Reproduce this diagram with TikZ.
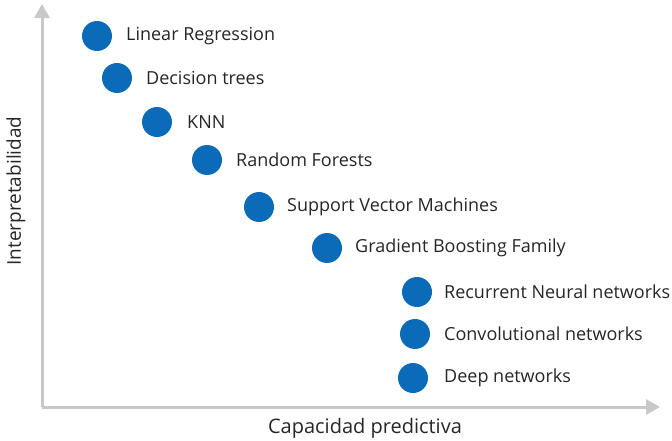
\documentclass[tikz,border=0pt]{standalone}
\usepackage{fontspec}
\setmainfont{Open Sans}
\usetikzlibrary{arrows.meta}
\definecolor{dotblue}{HTML}{0B6BB8}
\definecolor{axisgray}{HTML}{C8C8C8}
\definecolor{labelgray}{HTML}{262626}
\begin{document}
\begin{tikzpicture}[x=1pt,y=-1pt,
  dot/.style={circle,fill=dotblue,minimum size=30pt,inner sep=0pt},
  lbl/.style={anchor=west,inner sep=0pt,text=labelgray,font=\fontsize{18}{21}\selectfont},
  axis/.style={draw=axisgray,line width=3pt,-{Triangle[length=14pt,width=15pt]}},
  axlbl/.style={inner sep=0pt,text=labelgray}]
\useasboundingbox (0,0) rectangle (672,441);
% axes
\coordinate (o) at (42,407);
\coordinate (ytop) at (42,4);
\coordinate (xend) at (660,407);
\draw[axis] (o) -- (ytop);
\draw[axis] (o) -- (xend);
\node[axlbl,rotate=90,font=\fontsize{19}{22}\selectfont] (ylab) at (16,191) {Interpretabilidad};
\node[axlbl,font=\fontsize{20}{24}\selectfont] (xlab) at (365,428) {Capacidad predictiva};
% models
\node[dot] (d1) at (97,36) {};
\node[lbl] (t1) at (126,36) {Linear Regression};
\node[dot] (d2) at (117,78) {};
\node[lbl] (t2) at (146,78) {Decision trees};
\node[dot] (d3) at (157,122) {};
\node[lbl] (t3) at (187,122) {KNN};
\node[dot] (d4) at (207,160) {};
\node[lbl] (t4) at (236,160) {Random Forests};
\node[dot] (d5) at (259,207) {};
\node[lbl] (t5) at (287,207) {Support Vector Machines};
\node[dot] (d6) at (327,248) {};
\node[lbl] (t6) at (355,248) {Gradient Boosting Family};
\node[dot] (d7) at (417,292) {};
\node[lbl] (t7) at (444,292) {Recurrent Neural networks};
\node[dot] (d8) at (415,334) {};
\node[lbl] (t8) at (444,334) {Convolutional networks};
\node[dot] (d9) at (413,378) {};
\node[lbl] (t9) at (444,378) {Deep networks};
\end{tikzpicture}
\end{document}
